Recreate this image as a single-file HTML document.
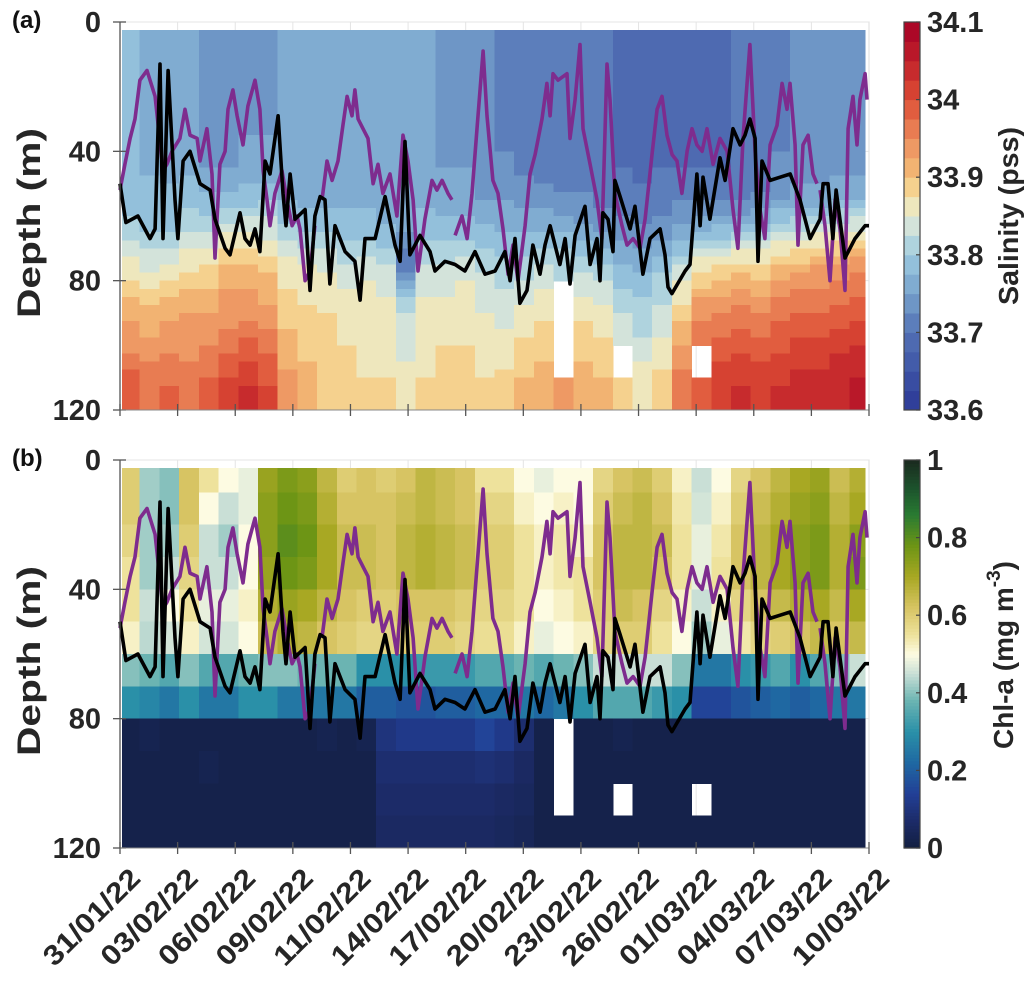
<!DOCTYPE html>
<html><head><meta charset="utf-8">
<style>
html,body{margin:0;padding:0;background:#fff;}
svg{display:block;font-family:"Liberation Sans",Arial,sans-serif;}
</style></head>
<body>
<svg id="fig" width="1034" height="985" viewBox="0 0 1034 985" xmlns="http://www.w3.org/2000/svg">
  <g id="panelA"></g>
  <g id="panelB"></g>
  <g id="xlabels"></g>
</svg>
<script>
// ---------- DATA ----------
const depthRows = [0,10,20,30,40,50,60,70,80,90,100,110];
const dayCols = [0,1,2,3,4,5,6,7,8,9,10,11,12,13,14,15,16,17,18,19,20,21,22,23,24,25,26,27,28,29,30,31,32,33,34,35,36,37];
const xTickLabels = ["31/01/22","03/02/22","06/02/22","09/02/22","11/02/22","14/02/22","17/02/22","20/02/22","23/02/22","26/02/22","01/03/22","04/03/22","07/03/22","10/03/22"];
const yTicks = [0,40,80,120];
const salTicks = [33.6,33.7,33.8,33.9,34,34.1];
const chlTicks = [0,0.2,0.4,0.6,0.8,1];

const salinity = [
[33.78,33.78,33.78,33.78,33.78,33.79,33.81,33.86,33.90,33.93,33.96,34.00],
[33.77,33.77,33.77,33.77,33.77,33.79,33.80,33.84,33.89,33.92,33.95,33.97],
[33.76,33.76,33.76,33.76,33.77,33.78,33.80,33.85,33.90,33.93,33.96,33.98],
[33.77,33.77,33.77,33.77,33.77,33.79,33.82,33.87,33.91,33.94,33.95,33.97],
[33.73,33.73,33.73,33.74,33.75,33.78,33.83,33.88,33.91,33.94,33.96,33.99],
[33.74,33.74,33.74,33.74,33.75,33.78,33.85,33.90,33.93,33.95,33.98,34.02],
[33.75,33.75,33.75,33.75,33.76,33.79,33.85,33.90,33.93,33.96,34.00,34.04],
[33.75,33.75,33.75,33.75,33.76,33.80,33.84,33.89,33.92,33.95,33.98,34.01],
[33.76,33.76,33.76,33.76,33.76,33.77,33.81,33.86,33.88,33.90,33.92,33.94],
[33.76,33.76,33.76,33.76,33.76,33.77,33.80,33.85,33.87,33.89,33.90,33.92],
[33.76,33.76,33.76,33.76,33.76,33.77,33.80,33.84,33.87,33.88,33.89,33.90],
[33.76,33.76,33.76,33.76,33.76,33.77,33.79,33.83,33.86,33.87,33.88,33.89],
[33.76,33.76,33.76,33.76,33.76,33.77,33.79,33.84,33.86,33.87,33.87,33.88],
[33.76,33.76,33.76,33.76,33.76,33.76,33.78,33.83,33.85,33.86,33.87,33.88],
[33.76,33.76,33.76,33.76,33.76,33.76,33.75,33.70,33.80,33.84,33.85,33.86],
[33.76,33.76,33.76,33.76,33.76,33.77,33.79,33.83,33.85,33.86,33.87,33.88],
[33.75,33.75,33.75,33.75,33.75,33.76,33.79,33.83,33.85,33.87,33.88,33.89],
[33.75,33.75,33.75,33.75,33.75,33.76,33.79,33.84,33.86,33.87,33.88,33.89],
[33.74,33.74,33.74,33.74,33.74,33.75,33.78,33.82,33.84,33.86,33.87,33.88],
[33.72,33.72,33.72,33.72,33.73,33.75,33.77,33.81,33.83,33.85,33.87,33.89],
[33.71,33.71,33.71,33.71,33.72,33.74,33.77,33.81,33.84,33.87,33.89,33.91],
[33.71,33.71,33.71,33.71,33.71,33.74,33.78,33.83,33.86,33.88,33.90,33.92],
[33.70,33.70,33.70,33.70,33.71,33.73,33.77,33.82,null,null,null,33.93],
[33.70,33.70,33.70,33.70,33.71,33.73,33.76,33.81,33.85,33.88,33.90,33.92],
[33.70,33.70,33.70,33.70,33.71,33.72,33.75,33.80,33.84,33.87,33.89,33.91],
[33.69,33.69,33.69,33.69,33.70,33.71,33.74,33.78,33.81,33.84,null,33.88],
[33.69,33.69,33.69,33.69,33.69,33.71,33.73,33.77,33.80,33.82,33.85,33.87],
[33.69,33.69,33.69,33.69,33.70,33.71,33.74,33.79,33.82,33.84,33.87,33.90],
[33.69,33.69,33.69,33.69,33.70,33.72,33.76,33.82,33.87,33.91,33.94,33.97],
[33.69,33.69,33.69,33.69,33.70,33.72,33.78,33.86,33.92,33.96,null,34.00],
[33.69,33.69,33.69,33.69,33.70,33.72,33.79,33.87,33.93,33.97,34.00,34.02],
[33.70,33.70,33.70,33.70,33.70,33.72,33.80,33.88,33.94,33.98,34.01,34.03],
[33.70,33.70,33.70,33.70,33.71,33.73,33.80,33.88,33.93,33.97,34.00,34.02],
[33.72,33.72,33.72,33.72,33.73,33.75,33.82,33.90,33.95,33.98,34.01,34.03],
[33.73,33.73,33.73,33.73,33.74,33.76,33.83,33.91,33.96,33.99,34.02,34.04],
[33.73,33.73,33.73,33.73,33.74,33.76,33.84,33.92,33.96,33.99,34.02,34.04],
[33.73,33.73,33.73,33.73,33.74,33.77,33.85,33.93,33.97,34.00,34.03,34.05],
[33.73,33.73,33.73,33.73,33.74,33.77,33.86,33.94,33.98,34.01,34.04,34.06]
];

const chla = [
[0.6,0.6,0.58,0.55,0.55,0.52,0.4,0.3,0.02,0.02,0.02,0.02],
[0.42,0.42,0.42,0.42,0.45,0.44,0.38,0.28,0.03,0.02,0.02,0.02],
[0.4,0.4,0.42,0.45,0.5,0.46,0.35,0.25,0.02,0.02,0.02,0.02],
[0.62,0.62,0.6,0.58,0.55,0.52,0.4,0.3,0.02,0.02,0.02,0.02],
[0.55,0.5,0.45,0.45,0.48,0.46,0.35,0.25,0.02,0.03,0.02,0.02],
[0.5,0.45,0.42,0.45,0.48,0.46,0.35,0.25,0.02,0.02,0.02,0.02],
[0.48,0.48,0.5,0.5,0.52,0.5,0.38,0.3,0.02,0.02,0.02,0.02],
[0.72,0.74,0.74,0.72,0.68,0.64,0.4,0.3,0.02,0.02,0.02,0.02],
[0.76,0.78,0.8,0.78,0.72,0.68,0.4,0.25,0.02,0.02,0.02,0.02],
[0.74,0.76,0.78,0.76,0.7,0.66,0.38,0.25,0.02,0.02,0.02,0.02],
[0.66,0.68,0.7,0.7,0.66,0.62,0.38,0.25,0.03,0.02,0.02,0.02],
[0.6,0.62,0.64,0.64,0.62,0.6,0.38,0.25,0.02,0.02,0.02,0.02],
[0.62,0.62,0.64,0.64,0.6,0.58,0.3,0.2,0.03,0.02,0.02,0.02],
[0.6,0.62,0.62,0.62,0.6,0.58,0.3,0.2,0.1,0.08,0.07,0.06],
[0.62,0.64,0.66,0.66,0.62,0.6,0.3,0.18,0.12,0.08,0.07,0.06],
[0.66,0.66,0.68,0.68,0.62,0.6,0.32,0.18,0.12,0.08,0.07,0.06],
[0.64,0.64,0.66,0.66,0.62,0.6,0.32,0.2,0.12,0.08,0.07,0.06],
[0.62,0.62,0.64,0.64,0.6,0.58,0.32,0.2,0.12,0.08,0.07,0.06],
[0.55,0.58,0.6,0.6,0.58,0.56,0.35,0.22,0.15,0.09,0.07,0.06],
[0.55,0.58,0.6,0.6,0.58,0.56,0.35,0.22,0.12,0.08,0.06,0.05],
[0.5,0.52,0.55,0.55,0.55,0.52,0.38,0.25,0.08,0.06,0.05,0.04],
[0.48,0.5,0.52,0.52,0.5,0.48,0.35,0.22,0.02,0.02,0.02,0.02],
[0.5,0.52,0.54,0.54,0.52,0.5,0.38,0.25,null,null,null,0.02],
[0.5,0.5,0.52,0.55,0.55,0.52,0.4,0.3,0.02,0.02,0.02,0.02],
[0.58,0.6,0.62,0.62,0.6,0.58,0.45,0.35,0.02,0.02,0.02,0.02],
[0.62,0.64,0.66,0.66,0.64,0.6,0.45,0.35,0.03,0.02,null,0.02],
[0.64,0.66,0.66,0.66,0.62,0.6,0.45,0.35,0.02,0.02,0.02,0.02],
[0.6,0.62,0.64,0.62,0.58,0.55,0.45,0.32,0.02,0.02,0.02,0.02],
[0.52,0.54,0.55,0.55,0.52,0.5,0.4,0.3,0.02,0.02,0.02,0.02],
[0.45,0.46,0.48,0.48,0.45,0.42,0.25,0.15,0.02,0.02,null,0.02],
[0.5,0.52,0.54,0.55,0.52,0.48,0.25,0.15,0.02,0.02,0.02,0.02],
[0.58,0.6,0.62,0.62,0.58,0.54,0.3,0.18,0.02,0.02,0.02,0.02],
[0.62,0.64,0.66,0.66,0.62,0.58,0.32,0.2,0.02,0.02,0.02,0.02],
[0.66,0.68,0.7,0.7,0.65,0.6,0.35,0.22,0.02,0.02,0.02,0.02],
[0.7,0.72,0.74,0.74,0.68,0.62,0.3,0.2,0.02,0.02,0.02,0.02],
[0.72,0.74,0.76,0.76,0.7,0.65,0.35,0.22,0.02,0.02,0.02,0.02],
[0.64,0.66,0.68,0.68,0.65,0.62,0.4,0.25,0.02,0.02,0.02,0.02],
[0.68,0.7,0.74,0.76,0.7,0.65,0.45,0.25,0.02,0.02,0.02,0.02]
];

// Mixed-layer depth (black line): days and depths
const mldDays = [0,0.3,0.91,1.52,1.78,2.03,2.18,2.44,2.79,2.94,3.2,3.55,4.06,4.57,4.82,5.33,5.58,6.09,6.34,6.6,6.85,7.1,7.36,7.61,8.02,8.27,8.42,8.63,8.88,9.39,9.64,9.89,10.15,10.4,10.65,10.91,11.42,11.92,12.18,12.43,12.94,13.45,13.95,14.21,14.46,14.71,15.22,15.73,15.98,16.49,17,17.5,18.01,18.52,19.03,19.53,19.79,20.04,20.29,20.65,20.95,21.31,21.56,21.82,22.32,22.58,22.83,23.09,23.59,23.85,24.2,24.35,24.5,24.76,25.01,25.11,25.37,25.88,26.13,26.53,26.89,27.4,27.65,27.8,28,28.67,28.92,29.27,29.43,29.58,29.93,30.44,30.7,31.1,31.46,31.71,31.96,32.22,32.37,32.57,32.98,33.49,34,34.5,35.01,35.52,35.67,35.92,36.17,36.33,36.78,37.29,37.8,38];
const mldDepth = [50,62,60,67,64,13,67,15,55,67,43,40,50,52,61,70,72,59,67,69,64,71,43,47,29,53,63,47,61,58,83,60,54,55,81,63,71,74,86,67,67,54,69,74,37,72,66,71,77,74,75,77,71,78,77,71,80,67,87,83,69,78,69,63,75,67,81,66,57,75,67,80,59,61,71,49,54,64,57,78,67,64,72,82,84,77,75,47,63,48,61,42,49,33,38,35,30,36,74,43,49,48,47,55,67,61,50,50,67,52,73,67,63,63];

// Purple line: days and depths (null = gap)
const purpleDays = [0,0.25,0.51,0.76,1.01,1.37,1.78,2.18,2.38,2.64,3.04,3.3,3.55,3.91,4.06,4.41,4.67,4.82,5.07,5.33,5.48,5.73,5.94,6.24,6.49,6.85,7.1,7.26,7.46,7.61,7.86,8.22,8.47,8.73,8.98,9.13,9.39,9.64,9.89,10.07,10.25,10.5,10.76,11.06,11.31,11.52,11.77,11.92,12.08,12.33,12.58,12.84,13.09,13.34,13.7,14.05,14.36,14.61,14.87,15.12,15.47,15.83,16.08,16.34,16.64,16.84,16.92,17,17.35,17.61,17.86,18.11,18.42,18.62,18.92,19.18,19.43,19.69,19.94,20.19,20.55,20.8,21.06,21.41,21.66,21.82,21.97,22.22,22.68,22.83,23.09,23.34,23.49,23.85,24.2,24.45,24.71,24.86,25.11,25.47,25.72,26.03,26.38,26.64,26.99,27.25,27.5,27.75,28.01,28.26,28.51,28.77,29.02,29.27,29.53,29.78,30.09,30.44,30.8,31.1,31.35,31.61,31.96,32.22,32.47,32.72,32.98,33.33,33.59,33.84,33.99,34.25,34.4,34.65,34.91,35.16,35.36,35.44,35.52,35.77,36.02,36.28,36.53,36.78,36.94,37.19,37.39,37.54,37.8,37.9];
const purpleDepth = [52,44,36,30,18,15,23,46,44,40,36,27,35,36,43,33,47,73,44,40,27,21,29,38,26,18,27,46,55,63,53,46,55,63,60,64,80,77,63,null,55,43,49,43,32,23,29,21,30,33,36,50,44,53,47,60,35,43,55,77,61,49,52,49,53,55,null,66,60,67,53,33,9,29,49,53,64,78,69,80,63,47,41,30,19,29,16,18,16,36,24,7,33,44,55,67,13,24,53,63,69,67,70,61,41,27,23,35,41,43,53,40,33,38,40,33,44,36,40,58,70,36,7,40,58,67,38,32,19,27,19,38,69,38,35,47,50,null,52,63,80,55,64,83,33,23,38,24,16,24];

// ---------- LAYOUT ----------
const NS = "http://www.w3.org/2000/svg";
const X0 = 120, X1 = 869, DAYMAX = 38;
const xs = d => X0 + d / DAYMAX * (X1 - X0);
const panels = [
  {g: document.getElementById('panelA'), top: 22, bot: 410, kind: 'sal', tag: '(a)'},
  {g: document.getElementById('panelB'), top: 460, bot: 848, kind: 'chl', tag: '(b)'}
];
function el(tag, attrs, parent){ const e = document.createElementNS(NS, tag); for (const k in attrs) e.setAttribute(k, attrs[k]); parent.appendChild(e); return e; }
function hex(h){ return [parseInt(h.substr(1,2),16),parseInt(h.substr(3,2),16),parseInt(h.substr(5,2),16)]; }
function interp(stops, t){
  if (t <= stops[0][0]) return stops[0][1];
  for (let i=1;i<stops.length;i++){ if (t <= stops[i][0]){ const a=stops[i-1], b=stops[i]; const f=(t-a[0])/(b[0]-a[0]); const ca=hex(a[1]), cb=hex(b[1]); return 'rgb('+ca.map((c,k)=>Math.round(c+(cb[k]-c)*f)).join(',')+')'; } }
  return stops[stops.length-1][1];
}
const salStops = [[33.6,'#2c3896'],[33.65,'#3d54a6'],[33.7,'#5472b5'],[33.75,'#76a2cc'],[33.8,'#9ccae0'],[33.85,'#e6ecd8'],[33.875,'#f6e3a3'],[33.9,'#f4c07a'],[33.95,'#ec8c5c'],[34.0,'#dd4d35'],[34.05,'#c0202a'],[34.1,'#a50026']];
function salColor(v){ let L = Math.floor((v-33.6)/0.025); L = Math.max(0, Math.min(19, L)); return interp(salStops, 33.6 + (L+0.5)*0.025); }
const chlStops = [[0,'#121f40'],[0.07,'#1c2b68'],[0.14,'#223f96'],[0.22,'#1f68a2'],[0.3,'#2a90a8'],[0.38,'#6bb4b2'],[0.45,'#c9dfd6'],[0.5,'#fdfbe2'],[0.55,'#eee29c'],[0.62,'#d7c463'],[0.7,'#a8a823'],[0.78,'#6d9515'],[0.86,'#297a32'],[0.93,'#1c522c'],[1,'#1b2a1f']];
function chlColor(v){ return interp(chlStops, v); }

panels.forEach((p, pi) => {
  const ys = z => p.top + z / 120 * (p.bot - p.top);
  const g = p.g;
  const grid = el('g', {}, g);
  
  
  el('rect', {x:X0, y:p.top, width:X1-X0, height:p.bot-p.top, fill:'#fff', stroke:'#dcdcdc', 'stroke-width':1}, grid);
  for (let i=1;i<13;i++){ const x = xs(i*DAYMAX/13); el('line',{x1:x,x2:x,y1:p.top,y2:p.bot,stroke:'#e4e4e4','stroke-width':1},grid); }
  yTicks.forEach(t=>{ el('line',{x1:X0,x2:X1,y1:ys(t),y2:ys(t),stroke:'#e4e4e4','stroke-width':1},grid); });
  // heatmap
  const hm = el('g', {'shape-rendering':'crispEdges'}, g);
  
  
  const data = p.kind === 'sal' ? salinity : chla;
  const SUB = p.kind === 'sal' ? 4 : 1;
  dayCols.forEach((d, i) => {
    const xa = xs(Math.max(d, 0.1)), xb = xs(Math.min(d+1, 37.8));
    const col = data[i];
    depthRows.forEach((z, j) => {
      const v = col[j];
      if (v === null) return;
      for (let s=0; s<SUB; s++){
        const z0 = z + s*10/SUB, z1 = z + (s+1)*10/SUB;
        let vv = v;
        if (SUB > 1){
          const zc = (z0+z1)/2, off = (zc - (z+5))/10;
          const nj = off < 0 ? j-1 : j+1;
          if (nj >= 0 && nj < col.length && col[nj] !== null) vv = v + (col[nj]-v)*Math.abs(off);
        }
        const ya = ys(Math.max(z0, 2.5)), yb = ys(z1);
        if (yb <= ya) continue;
        const r = el('rect', {x:xa.toFixed(1), y:ya.toFixed(1), width:(xb-xa+0.6).toFixed(1), height:(yb-ya+0.6).toFixed(1), fill: p.kind==='sal' ? salColor(vv) : chlColor(vv)}, hm);
        
        
      }
    });
  });
  function linePath(days, depths){
    let s = '', pen = false;
    for (let k=0;k<days.length;k++){
      if (depths[k] === null){ pen = false; continue; }
      s += (pen ? 'L' : 'M') + xs(days[k]).toFixed(1) + ' ' + ys(depths[k]).toFixed(1);
      pen = true;
    }
    return s;
  }
  const pl = el('path', {d: linePath(purpleDays, purpleDepth), fill:'none', stroke:'#7e2c8e', 'stroke-width':3.6, 'stroke-linejoin':'round'}, g);
  
  
  const bl = el('path', {d: linePath(mldDays, mldDepth), fill:'none', stroke:'#000', 'stroke-width':3.6, 'stroke-linejoin':'round'}, g);
  
  
  const ax = el('g', {}, g);
  
  
  el('line', {x1:X0, x2:X0, y1:p.top, y2:p.bot, stroke:'#555', 'stroke-width':1.3}, ax);
  yTicks.forEach(t => {
    el('line', {x1:X0-7, x2:X0+6, y1:ys(t), y2:ys(t), stroke:'#555', 'stroke-width':1.3}, ax);
    const tx = el('text', {x:101, y:ys(t)+10, 'text-anchor':'end', 'font-size':29, 'font-weight':'bold', fill:'#262626'}, ax);
    tx.textContent = t;
    
    
  });
  const xa = el('g', {}, g);
  
  
  el('line', {x1:X0, x2:X1, y1:p.bot, y2:p.bot, stroke:'#888', 'stroke-width':1}, xa);
  for (let i=0;i<=13;i++){ const x = xs(i*DAYMAX/13); el('line',{x1:x,x2:x,y1:p.bot-6,y2:p.bot+6,stroke:'#555','stroke-width':1.3},xa); }
  const yl = el('text', {x:0, y:0, transform:'translate(40,'+((p.top+p.bot)/2+7)+') rotate(-90)', 'text-anchor':'middle', 'font-size':32, 'font-weight':'bold', fill:'#262626', textLength:190, lengthAdjust:'spacingAndGlyphs'}, g);
  yl.textContent = 'Depth (m)';
  
  
  const tg = el('text', {x:12, y:p.top+6, 'font-size':24, 'font-weight':'bold', fill:'#111'}, g);
  tg.textContent = p.tag;
  
  
  const cb = el('g', {}, g);
  
  
  const CX = 904, CW = 16, H = p.bot - p.top;
  if (p.kind === 'sal'){
    for (let L=0; L<20; L++){ el('rect',{x:CX, y:(p.bot - (L+1)*H/20).toFixed(2), width:CW, height:(H/20+0.5).toFixed(2), fill:interp(salStops, 33.6+(L+0.5)*0.025)}, cb); }
  } else {
    for (let k=0;k<120;k++){ el('rect',{x:CX, y:(p.bot - (k+1)*H/120).toFixed(2), width:CW, height:(H/120+0.6).toFixed(2), fill:chlColor((k+0.5)/120)}, cb); }
  }
  el('rect', {x:CX, y:p.top, width:CW, height:H, fill:'none', stroke:'#444', 'stroke-width':1.2}, cb);
  const ticks = p.kind === 'sal' ? salTicks : chlTicks;
  ticks.forEach(t => {
    const f = p.kind === 'sal' ? (t-33.6)/0.5 : t;
    const y = p.bot - f*H;
    el('line', {x1:CX+CW-4, x2:CX+CW, y1:y, y2:y, stroke:'#444', 'stroke-width':1.2}, cb);
    const tx = el('text', {x:927, y:y+10, 'font-size':29, 'font-weight':'bold', fill:'#262626'}, cb);
    tx.textContent = String(t);
    
    
  });
  const cl = el('text', {x:0, y:0, transform: p.kind==='sal' ? 'translate(1018,216) rotate(-90)' : 'translate(1013,655) rotate(-90)', 'text-anchor':'middle', 'font-size':28, 'font-weight':'bold', fill:'#262626'}, cb);
  if (p.kind === 'sal'){ cl.textContent = 'Salinity (pss)'; cl.setAttribute('textLength', 178); cl.setAttribute('lengthAdjust','spacingAndGlyphs'); }
  else {
    const t1 = el('tspan', {}, cl); t1.textContent = 'Chl-a (mg m';
    const t2 = el('tspan', {'font-size':19, dy:-13}, cl); t2.textContent = '-3';
    const t3 = el('tspan', {dy:13}, cl); t3.textContent = ')';
  }
  
  
});

const xl = document.getElementById('xlabels');
xTickLabels.forEach((lab, i) => {
  const x = xs(i*DAYMAX/13);
  const t = el('text', {x:0, y:0, transform:'translate('+(x+22).toFixed(1)+',880) rotate(-45)', 'text-anchor':'end', 'font-size':28, 'font-weight':'bold', fill:'#262626', textLength:124, lengthAdjust:'spacingAndGlyphs'}, xl);
  t.textContent = lab;
  
  
});
</script>
</body></html>
